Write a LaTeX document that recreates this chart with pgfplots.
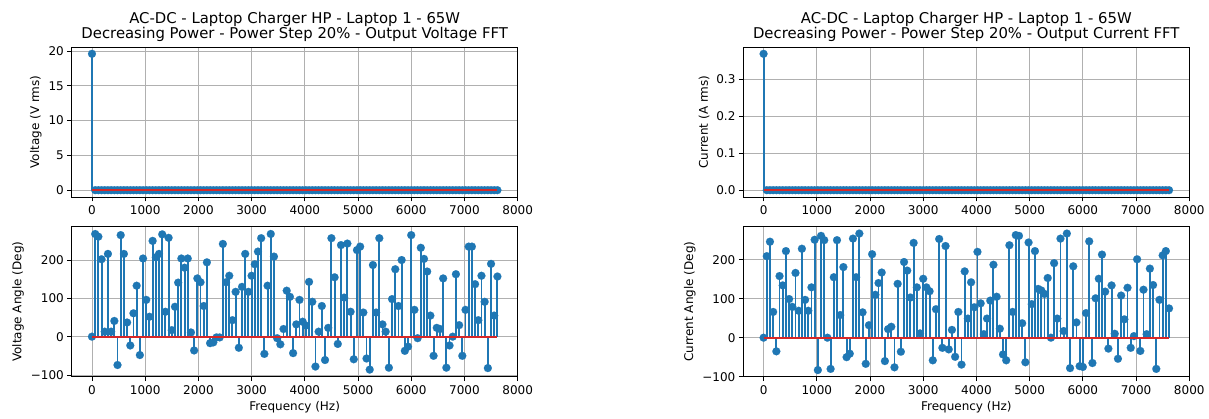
\documentclass[border=0pt]{standalone}
\usepackage{fontspec}
\setmainfont{DejaVu Sans}
\usepackage{pgfplots}
\pgfplotsset{compat=1.18}
\usepackage{pgfplotstable}
\definecolor{mplblue}{HTML}{1F77B4}
\definecolor{mplred}{HTML}{D62728}
\definecolor{mplgrid}{HTML}{B0B0B0}

\pgfplotstableread{
f vm va im ia
0 19.6 0 0.37 0
60 0 268 0 209
120 0 261 0 246
180 0 202 0 66
240 0 13 0 -35
300 0 216 0 158
360 0 13 0 134
420 0 41 0 222
480 0 -74 0 99
540 0 265 0 79
600 0 216 0 166
660 0 37 0 69
720 0 -23 0 228
780 0 61 0 97
840 0 133 0 69
900 0 -48 0 129
960 0 204 0 251
1020 0 96 0 -83
1080 0 52 0 261
1140 0 250 0 250
1200 0 207 0 0
1260 0 216 0 -80
1320 0 267 0 155
1380 0 65 0 250
1440 0 258 0 58
1500 0 17 0 181
1560 0 78 0 -50
1620 0 141 0 -41
1680 0 204 0 254
1740 0 180 0 155
1800 0 204 0 267
1860 0 11 0 65
1920 0 -36 0 -67
1980 0 152 0 32
2040 0 142 0 214
2100 0 80 0 110
2160 0 194 0 140
2220 0 -17 0 167
2280 0 -15 0 -60
2340 0 -2 0 22
2400 0 -2 0 28
2460 0 242 0 -76
2520 0 142 0 138
2580 0 159 0 -36
2640 0 43 0 194
2700 0 117 0 172
2760 0 -29 0 103
2820 0 130 0 243
2880 0 216 0 129
2940 0 117 0 11
3000 0 159 0 151
3060 0 189 0 129
3120 0 222 0 119
3180 0 257 0 -58
3240 0 -45 0 73
3300 0 133 0 253
3360 0 268 0 -26
3420 0 209 0 235
3480 0 -4 0 -30
3540 0 -20 0 20
3600 0 20 0 -49
3660 0 120 0 66
3720 0 104 0 -69
3780 0 -43 0 170
3840 0 32 0 49
3900 0 96 0 142
3960 0 39 0 78
4020 0 29 0 220
4080 0 143 0 88
4140 0 91 0 9
4200 0 -78 0 49
4260 0 13 0 95
4320 0 80 0 187
4380 0 -61 0 105
4440 0 23 0 23
4500 0 257 0 -43
4560 0 155 0 -58
4620 0 -19 0 237
4680 0 239 0 66
4740 0 102 0 263
4800 0 243 0 261
4860 0 65 0 37
4920 0 -59 0 -63
4980 0 226 0 244
5040 0 235 0 86
5100 0 63 0 222
5160 0 -57 0 125
5220 0 -86 0 121
5280 0 187 0 112
5340 0 63 0 153
5400 0 257 0 0
5460 0 32 0 191
5520 0 13 0 49
5580 0 -81 0 254
5640 0 98 0 17
5700 0 176 0 267
5760 0 80 0 -78
5820 0 200 0 183
5880 0 -37 0 39
5940 0 -26 0 -73
6000 0 265 0 -75
6060 0 70 0 63
6120 0 -4 0 247
6180 0 232 0 -65
6240 0 203 0 101
6300 0 170 0 151
6360 0 55 0 213
6420 0 -50 0 118
6480 0 23 0 -28
6540 0 20 0 134
6600 0 152 0 10
6660 0 -81 0 -54
6720 0 -23 0 108
6780 0 0 0 47
6840 0 163 0 128
6900 0 30 0 -26
6960 0 -50 0 4
7020 0 70 0 201
7080 0 235 0 -34
7140 0 235 0 123
7200 0 137 0 9
7260 0 43 0 177
7320 0 159 0 135
7380 0 91 0 -80
7440 0 -82 0 97
7500 0 190 0 211
7560 0 55 0 222
7620 0 157 0 75
}\data

\pgfplotsset{
  base/.style={
    scale only axis, width=446bp, height=150bp,
    xmin=-381, xmax=8001,
    xtick={0,1000,2000,3000,4000,5000,6000,7000,8000},
    xticklabels={0,1000,2000,3000,4000,5000,6000,7000,8000},
    tick pos=left, tick align=outside, major tick length=4.4bp,
    grid=major, grid style={mplgrid, line width=0.8bp},
    axis line style={line width=0.8bp},
    every tick/.style={black, line width=0.8bp},
    ticklabel style={font=\fontsize{12bp}{14bp}\selectfont},
    label style={font=\fontsize{12bp}{14bp}\selectfont},
    title style={font=\fontsize{14.85bp}{15.5bp}\selectfont, align=center, inner sep=0pt, yshift=-1bp},
    xticklabel style={yshift=-1bp},
    scaled ticks=false,
    clip marker paths=true,
  },
  stem/.style={ycomb, color=mplblue, line width=1.9bp, mark=*, mark size=4bp,
    mark options={solid, fill=mplblue, draw=mplblue, line width=0.1bp}},
  baseline/.style={color=mplred, line width=2bp, mark=none},
}

\begin{document}
\begin{tikzpicture}
% left top
\begin{axis}[base, at={(71.7bp,222bp)}, anchor=south west,
  ymin=-0.98, ymax=20.58, ytick={0,5,10,15,20}, yticklabels={0,5,10,15,20},
  ylabel={Voltage (V rms)},
  title={AC-DC - Laptop Charger HP - Laptop 1 - 65W\\Decreasing Power - Power Step 20\% - Output Voltage FFT}]
\addplot[stem] table[x=f,y=vm]{\data};
\addplot[baseline] coordinates {(0,0) (7620,0)};
\end{axis}
% left bottom
\begin{axis}[base, at={(71.7bp,42.3bp)}, anchor=south west,
  ymin=-104.5, ymax=287, ytick={-100,0,100,200}, yticklabels={−100,0,100,200},
  ylabel={Voltage Angle (Deg)}, xlabel={Frequency (Hz)}]
\addplot[stem] table[x=f,y=va]{\data};
\addplot[baseline] coordinates {(0,0) (7620,0)};
\end{axis}
% right top
\begin{axis}[base, at={(743.3bp,222bp)}, anchor=south west,
  ymin=-0.0185, ymax=0.3885, ytick={0,0.1,0.2,0.3}, yticklabels={0.0,0.1,0.2,0.3},
  ylabel={Current (A rms)},
  title={AC-DC - Laptop Charger HP - Laptop 1 - 65W\\Decreasing Power - Power Step 20\% - Output Current FFT}]
\addplot[stem] table[x=f,y=im]{\data};
\addplot[baseline] coordinates {(0,0) (7620,0)};
\end{axis}
% right bottom
\begin{axis}[base, at={(743.3bp,42.3bp)}, anchor=south west,
  ymin=-100, ymax=284.5, ytick={-100,0,100,200}, yticklabels={−100,0,100,200},
  ylabel={Current Angle (Deg)}, xlabel={Frequency (Hz)}]
\addplot[stem] table[x=f,y=ia]{\data};
\addplot[baseline] coordinates {(0,0) (7620,0)};
\end{axis}
\pgfresetboundingbox
\useasboundingbox (0bp,0bp) rectangle (1209bp,419bp);
\end{tikzpicture}
\end{document}
